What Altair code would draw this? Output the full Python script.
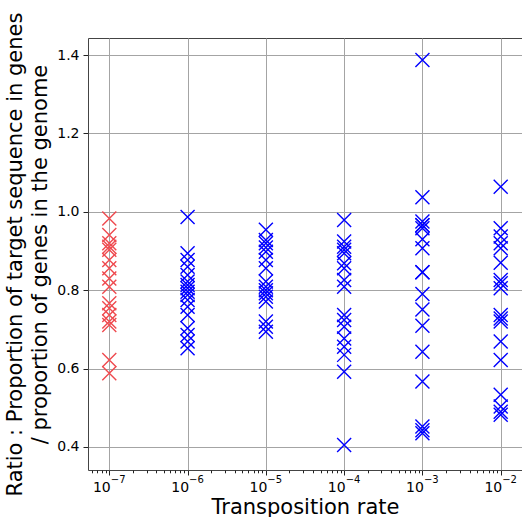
import altair as alt
import pandas as pd

# ---- data ----
rates = [1e-7, 1e-6, 1e-5, 1e-4, 1e-3, 1e-2]

ratio_1e7 = [0.983, 0.941, 0.920, 0.911, 0.903, 0.877, 0.856, 0.830, 0.809,
             0.767, 0.754, 0.737, 0.720, 0.711, 0.622, 0.588]
ratio_1e6 = [0.987, 0.894, 0.877, 0.860, 0.839, 0.822, 0.813, 0.805, 0.796,
             0.788, 0.775, 0.758, 0.737, 0.703, 0.686, 0.669, 0.652]
ratio_1e5 = [0.954, 0.928, 0.920, 0.909, 0.898, 0.877, 0.856, 0.822, 0.809,
             0.800, 0.792, 0.783, 0.771, 0.720, 0.707, 0.694]
ratio_1e4 = [0.979, 0.924, 0.911, 0.903, 0.894, 0.869, 0.856, 0.826, 0.809,
             0.737, 0.724, 0.707, 0.677, 0.656, 0.635, 0.592, 0.405]
ratio_1e3 = [1.387, 1.037, 0.975, 0.966, 0.966, 0.958, 0.930, 0.907, 0.846,
             0.846, 0.790, 0.751, 0.709, 0.643, 0.567, 0.452, 0.443, 0.435]
ratio_1e2 = [1.064, 0.958, 0.937, 0.920, 0.907, 0.870, 0.826, 0.818, 0.805,
             0.737, 0.728, 0.720, 0.669, 0.622, 0.533, 0.503, 0.490, 0.482]

series = [ratio_1e7, ratio_1e6, ratio_1e5, ratio_1e4, ratio_1e3, ratio_1e2]
series_colors = ["#ef4a4f", "#0000ff", "#0000ff", "#0000ff", "#0000ff", "#0000ff"]

tick_base = "10"
tick_exponents = ["\u22127", "\u22126", "\u22125", "\u22124", "\u22123", "\u22122"]
y_ticks = [0.4, 0.6, 0.8, 1.0, 1.2, 1.4]

x_domain = [10 ** -7.272, 10 ** -1.728]
y_domain = [0.3413, 1.4434]

minor_ticks = [k * 10.0 ** e for e in range(-8, -1) for k in range(2, 10)
               if x_domain[0] <= k * 10.0 ** e <= x_domain[1]]

rows = []
for r, vals, c in zip(rates, series, series_colors):
    for v in vals:
        rows.append({"rate": r, "ratio": v, "col": c})
df = pd.DataFrame(rows)

FONT = "DejaVu Sans"
major_test = "abs(log(datum.value)/LN10 - round(log(datum.value)/LN10)) < 0.001"
exp_list = "[" + ",".join("'" + s + "'" for s in tick_exponents) + "]"

x_scale = alt.Scale(type="log", domain=x_domain, nice=False)

# main x axis: ticks, grid, "10" part of the labels, title
x_axis = alt.Axis(
    orient="bottom",
    values=sorted(rates + minor_ticks),
    labelExpr=f"{major_test} ? '{tick_base}' : ''",
    labelAlign="right", labelOffset=1,
    tickSize={"condition": {"test": major_test, "value": 5}, "value": 2.8},
    gridOpacity={"condition": {"test": major_test, "value": 1}, "value": 0},
    gridColor="#a4a4a4", gridWidth=1,
    tickColor="#222222", tickWidth=1,
    domain=False,
    labelFont=FONT, labelFontSize=14, labelColor="black", labelPadding=5,
    labelOverlap=False, labelFlush=False,
    title="Transposition rate", titleFont=FONT, titleFontSize=21,
    titleFontWeight="normal", titleColor="black", titlePadding=2,
)

# second x axis: the exponent part of the labels, raised as a superscript
x_axis_exp = alt.Axis(
    orient="bottom",
    values=rates,
    labelExpr=f"{exp_list}[round(log(datum.value)/LN10) + 7]",
    labelAlign="left", labelOffset=1,
    ticks=False, grid=False, domain=False,
    labelFont=FONT, labelFontSize=10, labelColor="black", labelPadding=4,
    labelBaseline="top",
    labelOverlap=False, labelFlush=False,
    title=None,
)

y_axis = alt.Axis(
    values=y_ticks, format=".1f",
    tickSize=5, tickColor="#222222", tickWidth=1,
    gridColor="#a4a4a4", gridWidth=1,
    domain=False,
    labelFont=FONT, labelFontSize=14, labelColor="black", labelPadding=4,
    title=["Ratio : Proportion of target sequence in genes",
           "/ proportion of genes in the genome"],
    titleFont=FONT, titleFontSize=21, titleFontWeight="normal",
    titleColor="black", titleLineHeight=25, titlePadding=6,
)

points = alt.Chart(df).mark_point(
    shape="M-1,-1L1,1M-1,1L1,-1", filled=False, size=196,
    strokeWidth=1.4, opacity=1,
).encode(
    x=alt.X("rate:Q", scale=x_scale, axis=x_axis),
    y=alt.Y("ratio:Q", scale=alt.Scale(domain=y_domain, nice=False, zero=False), axis=y_axis),
    color=alt.Color("col:N", scale=None),
)

exp_layer = alt.Chart(df).mark_point(opacity=0).encode(
    x=alt.X("rate:Q", scale=x_scale, axis=x_axis_exp),
)

chart = alt.layer(points, exp_layer).resolve_axis(x="independent").properties(
    width=434, height=432,
    autosize=alt.AutoSizeParams(type="none"),
    padding={"left": 88, "top": 38, "right": 0, "bottom": 47},
    background="white",
).configure_view(stroke="#444444", strokeWidth=1)

chart.save("out.html", embed_options={"renderer": "svg", "actions": False})
